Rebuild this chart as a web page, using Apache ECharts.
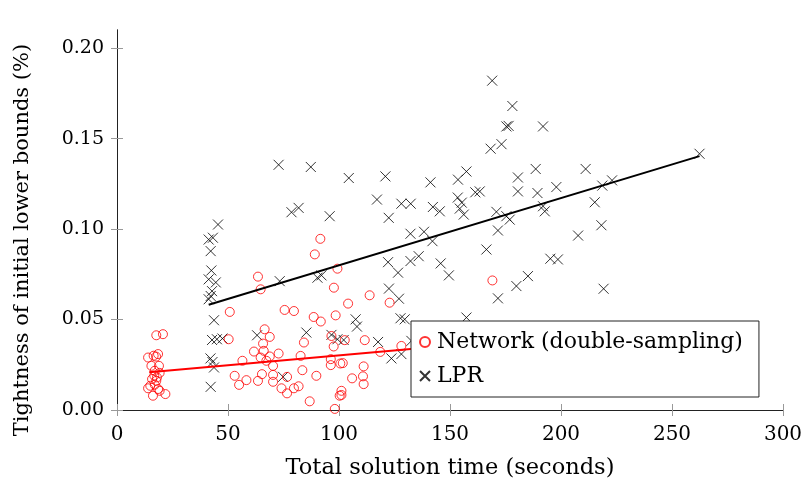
<!DOCTYPE html>
<html><head><meta charset="utf-8">
<script src="https://cdn.jsdelivr.net/npm/echarts@6/dist/echarts.min.js"></script>
<style>html,body{margin:0;padding:0;background:#fff}#c{width:807px;height:485px}</style>
</head><body><div id="c"></div>
<script>
var xTicks = [0, 50, 100, 150, 200, 250, 300];
var yTicks = [0, 0.05, 0.10, 0.15, 0.20];
var seriesNames = ['Network (double-sampling)', 'LPR'];
var networkPoints = [
 [17.7,0.0413],[20.7,0.0419],[14.0,0.0290],[16.5,0.0300],[18.5,0.0309],[17.6,0.0295],
 [15.5,0.0244],[18.9,0.0244],[17.0,0.0217],[19.2,0.0205],[15.8,0.0171],[17.7,0.0161],
 [15.0,0.0134],[17.0,0.0140],[18.5,0.0116],[14.0,0.0120],[16.2,0.0079],[21.8,0.0088],
 [19.2,0.0106],[16.8,0.0190],[18.0,0.0180],
 [91.6,0.0946],[89.1,0.0860],[99.3,0.0781],[63.5,0.0737],[64.7,0.0667],[97.7,0.0676],
 [50.8,0.0542],[75.5,0.0553],[79.7,0.0547],[88.6,0.0514],[91.8,0.0489],[98.5,0.0523],
 [66.5,0.0446],[68.8,0.0404],[50.3,0.0391],[65.8,0.0367],[61.7,0.0323],[66.1,0.0327],
 [64.7,0.0290],[67.3,0.0272],[68.8,0.0296],[72.8,0.0312],[82.7,0.0299],[84.2,0.0373],
 [97.6,0.0351],[96.3,0.0281],[96.3,0.0248],[100.6,0.0257],[70.3,0.0244],[56.5,0.0272],
 [53.0,0.0189],[58.3,0.0165],[63.5,0.0161],[65.3,0.0198],[70.3,0.0194],[76.6,0.0183],
 [70.3,0.0156],[83.5,0.0220],[89.8,0.0189],[55.0,0.0139],[74.1,0.0120],[76.6,0.0092],
 [79.7,0.0120],[81.8,0.0131],[86.8,0.0048],[98.1,0.0006],[100.3,0.0079],[101.1,0.0106],
 [96.6,0.0409],[113.8,0.0634],[104.1,0.0588],[122.8,0.0593],[102.6,0.0386],[111.6,0.0386],
 [101.7,0.0259],[111.1,0.0241],[105.9,0.0175],[110.8,0.0186],[111.1,0.0143],[101.1,0.0083],
 [118.6,0.0321],[128.1,0.0354],[169.1,0.0716]
];
var lprPoints = [
 [45.5,0.1025],[41.3,0.0942],[43.2,0.0952],[42.2,0.0878],[42.5,0.0771],[41.3,0.0722],
 [44.5,0.0705],[42.8,0.0657],[42.2,0.0630],[41.3,0.0612],[43.7,0.0496],[42.8,0.0387],
 [45.0,0.0391],[47.5,0.0395],[42.1,0.0285],[43.0,0.0265],[43.7,0.0235],[42.2,0.0128],
 [72.8,0.1355],[87.3,0.1343],[78.6,0.1093],[81.8,0.1117],[95.8,0.1071],[73.3,0.0712],
 [90.3,0.0731],[92.1,0.0744],[63.1,0.0413],[85.3,0.0428],[96.6,0.0415],[99.3,0.0391],
 [74.8,0.0183],[104.4,0.1282],[120.9,0.1291],[141.2,0.1258],[153.6,0.1273],[157.4,0.1318],
 [117.1,0.1163],[128.1,0.1140],[132.3,0.1140],[122.4,0.1062],[142.3,0.1122],[145.4,0.1098],
 [153.5,0.1174],[155.3,0.1146],[154.4,0.1113],[156.2,0.1080],[132.2,0.0974],[138.3,0.0985],
 [142.1,0.0933],[122.1,0.0817],[126.6,0.0759],[132.2,0.0823],[135.9,0.0850],[145.8,0.0810],
 [149.5,0.0744],[122.5,0.0671],[127.0,0.0615],[107.5,0.0501],[108.1,0.0461],[127.7,0.0507],
 [129.6,0.0501],[102.1,0.0387],[117.6,0.0376],[123.6,0.0285],[128.1,0.0309],[132.6,0.0382],
 [169.0,0.1820],[178.1,0.1680],[175.4,0.1567],[176.4,0.1570],[191.9,0.1567],[168.3,0.1444],
 [173.2,0.1469],[180.6,0.1285],[188.6,0.1332],[211.1,0.1332],[161.4,0.1203],[163.4,0.1208],
 [180.6,0.1208],[189.4,0.1199],[197.9,0.1232],[170.9,0.1095],[175.4,0.1071],[176.9,0.1052],
 [191.9,0.1126],[192.7,0.1098],[171.6,0.0992],[207.7,0.0964],[166.4,0.0887],[195.2,0.0836],
 [198.6,0.0832],[185.1,0.0740],[179.9,0.0685],[171.6,0.0617],[157.4,0.0511],[223.0,0.1269],
 [218.6,0.1240],[215.2,0.1148],[218.2,0.1021],[219.2,0.0670],[262.4,0.1416]
];
var networkTrend = [[14.5,0.0208],[169.1,0.0377]];
var lprTrend = [[41.3,0.0582],[262.4,0.1403]];

var FONT = 'DejaVu Serif';
var crossPath = 'path://M0,0L10,10M10,0L0,10';
var chart = echarts.init(document.getElementById('c'), null, {renderer:'canvas'});
var axisLine = {show:true, lineStyle:{color:'#222', width:1}};
var tickStyle = {color:'#999', width:1};
chart.setOption({
  animation:false,
  backgroundColor:'#fff',
  grid:{left:117, right:24, top:30, bottom:74, containLabel:false},
  xAxis:[{
    type:'value', min:0, max:300, interval:50, position:'bottom',
    name:'Total solution time (seconds)', nameLocation:'middle', nameGap:47,
    nameTextStyle:{fontFamily:FONT, fontSize:22.5, color:'#000'},
    axisLine:axisLine,
    axisTick:{show:true, inside:true, length:6, lineStyle:tickStyle, customValues:xTicks},
    axisLabel:{fontFamily:FONT, fontSize:20, color:'#000', margin:15, customValues:xTicks},
    splitLine:{show:false}
  },{
    type:'value', min:0, max:300, interval:50, position:'top',
    axisLine:axisLine,
    axisTick:{show:true, inside:true, length:6, lineStyle:tickStyle, customValues:xTicks},
    axisLabel:{show:false}, splitLine:{show:false}
  }],
  yAxis:[{
    type:'value', min:0, max:0.21, position:'left',
    name:'Tightness of initial lower bounds (%)', nameLocation:'middle', nameGap:84,
    nameTextStyle:{fontFamily:FONT, fontSize:21, color:'#000', padding:[0,40,0,0]},
    axisLine:axisLine,
    axisTick:{show:true, inside:true, length:6, lineStyle:tickStyle, customValues:yTicks},
    axisLabel:{fontFamily:FONT, fontSize:19, color:'#000', margin:13, customValues:yTicks,
      formatter:function(v){return v.toFixed(2);}},
    splitLine:{show:false}
  },{
    type:'value', min:0, max:0.21, position:'right',
    axisLine:axisLine,
    axisTick:{show:true, inside:true, length:6, lineStyle:tickStyle, customValues:yTicks},
    axisLabel:{show:false}, splitLine:{show:false}
  }],
  legend:{
    orient:'vertical', left:411, top:321,
    data:[{name:seriesNames[0]},{name:seriesNames[1]}],
    backgroundColor:'#fff', borderColor:'#222', borderWidth:1, borderRadius:0,
    padding:[10,16,10,8], itemGap:12, itemWidth:10, itemHeight:10,
    textStyle:{fontFamily:FONT, fontSize:22, color:'#000', padding:[0,0,0,2]},
    z:10
  },
  series:[{
    name:seriesNames[0], type:'scatter', data:networkPoints,
    symbol:'circle', symbolSize:9,
    itemStyle:{color:'rgba(0,0,0,0)', borderColor:'#ff0000', borderWidth:1},
    z:3
  },{
    name:seriesNames[1], type:'scatter', data:lprPoints,
    symbol:crossPath, symbolSize:10,
    itemStyle:{color:'rgba(0,0,0,0)', borderColor:'#000', borderWidth:1},
    z:2
  },{
    name:'networkTrend', type:'line', data:networkTrend, symbol:'none',
    lineStyle:{color:'#ff0000', width:2}, z:4, silent:true
  },{
    name:'lprTrend', type:'line', data:lprTrend, symbol:'none',
    lineStyle:{color:'#000', width:2}, z:4, silent:true
  }]
});
</script></body></html>
